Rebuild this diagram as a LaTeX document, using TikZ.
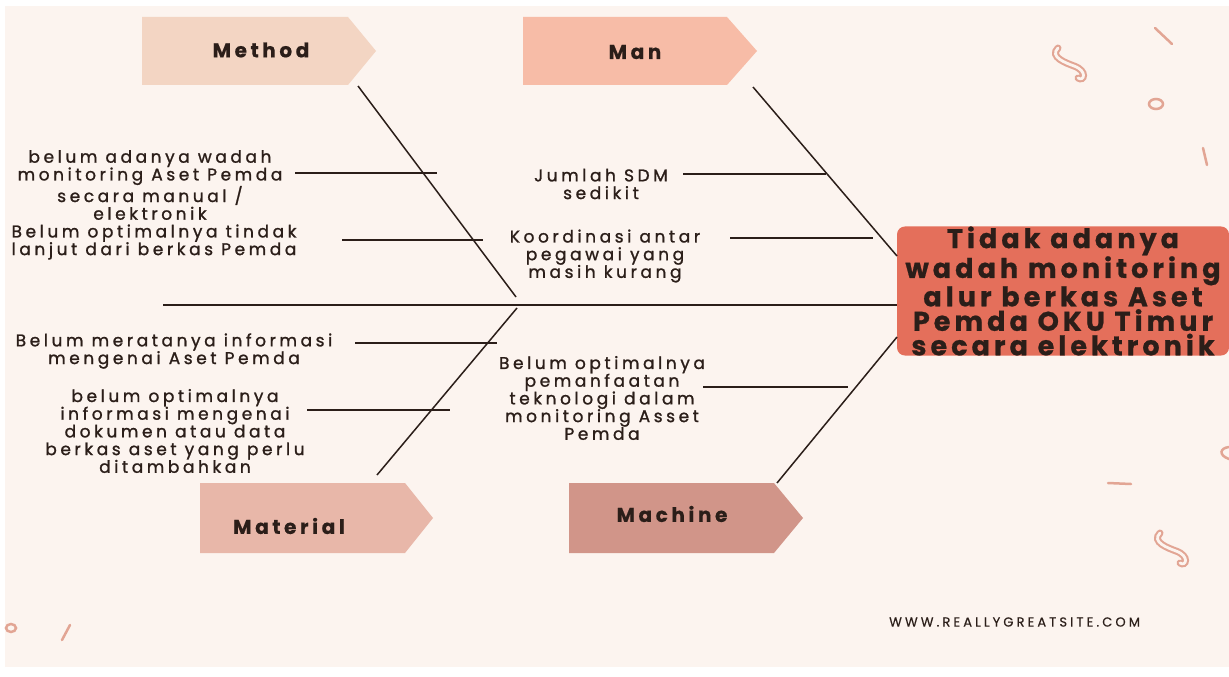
\documentclass[tikz,border=0pt]{standalone}
\usepackage{fontspec}
\setmainfont{Poppins}
\newfontfamily\bodyfont{Poppins}[LetterSpace=21,FakeBold=1.2]
\newfontfamily\headfont{Poppins}[LetterSpace=18,FakeBold=0.6]
\newfontfamily\titlefont{Poppins}[LetterSpace=15,FakeBold=0.8]
\newfontfamily\webfont{Poppins}[LetterSpace=24,FakeBold=0.4]
\definecolor{bgc}{HTML}{FCF4EF}
\definecolor{methodc}{HTML}{F3D5C3}
\definecolor{manc}{HTML}{F7BCA7}
\definecolor{materialc}{HTML}{E8B7A9}
\definecolor{machinec}{HTML}{D19589}
\definecolor{effectc}{HTML}{E46F5B}
\definecolor{inkc}{HTML}{2B1E19}
\definecolor{decoc}{HTML}{E2A594}
\begin{document}
\begin{tikzpicture}[x=1pt,y=-1pt,
  cause/.style={font=\bodyfont\fontsize{17}{17.7}\selectfont, align=center, text=inkc, inner sep=0pt},
  head/.style={font=\headfont\bfseries\fontsize{20}{22}\selectfont, text=inkc, inner sep=0pt},
  bone/.style={draw=inkc, line width=1.5pt},
  deco/.style={draw=decoc, line width=2.5pt, line cap=round},
  tube/.style={draw=decoc, line width=7pt, line cap=round},
  tubein/.style={draw=bgc, line width=2.8pt, line cap=round},
  effectbox/.style={fill=effectc, rounded corners=8pt, minimum width=332pt, minimum height=123pt, inner sep=0pt,
    font=\titlefont\bfseries\fontsize{27}{24.5}\selectfont, align=center, text=inkc}]
\useasboundingbox (0,0) rectangle (1229,677);
\fill[white] (0,0) rectangle (1229,677);
\fill[bgc] (5,6) rectangle (1229,667);

% category boxes
\fill[methodc] (142,17) -- (348,17) -- (376,51) -- (348,85) -- (142,85) -- cycle;
\fill[manc] (523,17) -- (727,17) -- (757,51) -- (727,85) -- (523,85) -- cycle;
\fill[materialc] (200,483) -- (405,483) -- (433,518) -- (405,553) -- (200,553) -- cycle;
\fill[machinec] (569,483) -- (774,483) -- (803,518) -- (774,553) -- (569,553) -- cycle;
\node[head] (method) at (261,50) {Method};
\node[head] (man) at (635,52) {Man};
\node[head] (material) at (289,526) {Material};
\node[head] (machine) at (672,514) {Machine};

% effect
\node[effectbox] (effect) at (1063,291) {Tidak adanya\\wadah monitoring\\alur berkas Aset\\Pemda OKU Timur\\secara elektronik};

% spine and bones
\coordinate (tail) at (163,305);
\coordinate (head) at (effect.west |- tail);
\draw[bone] (tail) -- (head);
\coordinate (mB0) at (358,86);
\coordinate (mB1) at (516,297);
\coordinate (nB0) at (753,87);
\coordinate (nB1) at (897,256);
\coordinate (tB0) at (377,475);
\coordinate (tB1) at (517,308);
\coordinate (cB0) at (777,483);
\coordinate (cB1) at (897,337);
\draw[bone] (mB0) -- (mB1);
\draw[bone] (nB0) -- (nB1);
\draw[bone] (tB0) -- (tB1);
\draw[bone] (cB0) -- (cB1);

% causes
\node[cause] (m1) at (150,185) {belum adanya wadah\\monitoring Aset Pemda\\secara manual /\\elektronik};
\node[cause] (m2) at (154,242) {Belum optimalnya tindak\\lanjut dari berkas Pemda};
\node[cause] (n1) at (601,184) {Jumlah SDM\\sedikit};
\node[cause] (n2) at (605,256) {Koordinasi antar\\pegawai yang\\masih kurang};
\node[cause] (t1) at (174,351) {Belum meratanya informasi\\mengenai Aset Pemda};
\node[cause] (t2) at (175,431) {belum optimalnya\\informasi mengenai\\dokumen atau data\\berkas aset yang perlu\\ditambahkan};
\node[cause] (c1) at (602,398) {Belum optimalnya\\pemanfaatan\\teknologi dalam\\monitoring Asset\\Pemda};

% ribs
\coordinate (m1a) at (295,173); \coordinate (m1b) at (437,173);
\coordinate (m2a) at (342,240); \coordinate (m2b) at (483,240);
\coordinate (n1a) at (683,174); \coordinate (n1b) at (826,174);
\coordinate (n2a) at (730,238); \coordinate (n2b) at (873,238);
\coordinate (t1a) at (355,343); \coordinate (t1b) at (497,343);
\coordinate (t2a) at (307,410); \coordinate (t2b) at (450,410);
\coordinate (c1a) at (703,387); \coordinate (c1b) at (848,387);
\draw[bone] (m1a) -- (m1b);
\draw[bone] (m2a) -- (m2b);
\draw[bone] (n1a) -- (n1b);
\draw[bone] (n2a) -- (n2b);
\draw[bone] (t1a) -- (t1b);
\draw[bone] (t2a) -- (t2b);
\draw[bone] (c1a) -- (c1b);

% website
\node[font=\webfont\fontsize{13}{15}\selectfont, text=inkc, inner sep=0pt, anchor=west] (web) at (889,622) {WWW.REALLYGREATSITE.COM};

% decorations
\draw[tube] (1058,48) .. controls (1049,57) and (1066,63) .. (1074,66) .. controls (1088,71) and (1084,82) .. (1078,78);
\draw[tubein] (1058,48) .. controls (1049,57) and (1066,63) .. (1074,66) .. controls (1088,71) and (1084,82) .. (1078,78);
\draw[tube] (1160,533) .. controls (1151,542) and (1168,548) .. (1176,551) .. controls (1190,556) and (1186,567) .. (1180,563);
\draw[tubein] (1160,533) .. controls (1151,542) and (1168,548) .. (1176,551) .. controls (1190,556) and (1186,567) .. (1180,563);
\draw[deco] (1155,28) -- (1172,44);
\draw[deco] (1156,104) ellipse [x radius=7, y radius=5];
\draw[deco] (1203,148) -- (1207,165);
\draw[deco] (1108,483) -- (1131,484);
\draw[deco] (1229,447) .. controls (1220,448) and (1218,455) .. (1229,459);
\draw[deco] (62,640) -- (70,625);
\draw[deco] (11,628) ellipse [x radius=5, y radius=4];
\end{tikzpicture}
\end{document}
